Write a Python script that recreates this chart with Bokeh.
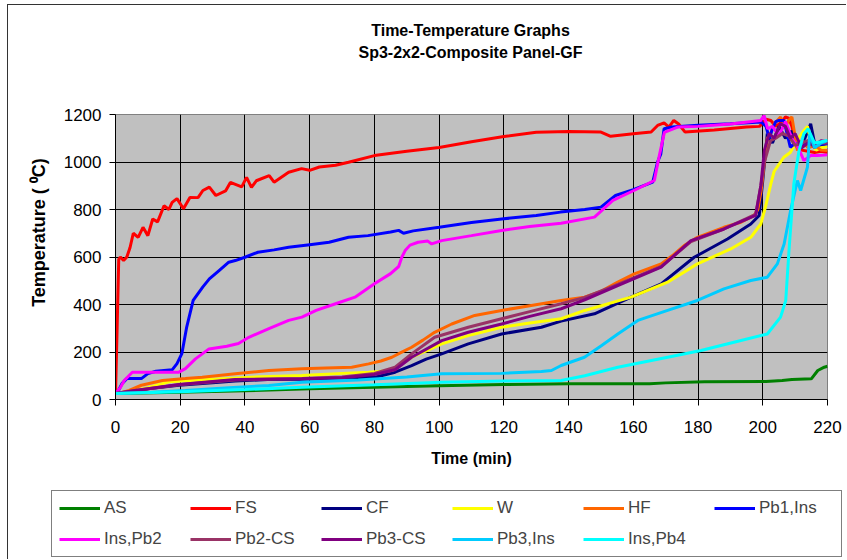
import math
from bokeh.plotting import figure
from bokeh.models import Range1d, SingleIntervalTicker, Legend, LegendItem
from bokeh.layouts import column, row
from bokeh.core.properties import value
from bokeh.embed import file_html
from bokeh.resources import INLINE

FONT = "Liberation Sans"

title_lines = ["Time-Temperature Graphs", "Sp3-2x2-Composite Panel-GF"]
x_label = "Time (min)"
y_label = "Temperature ( \u2070C)"

series_names = ["AS", "FS", "CF", "W", "HF", "Pb1,Ins",
                "Ins,Pb2", "Pb2-CS", "Pb3-CS", "Pb3,Ins", "Ins,Pb4"]
series_colors = ["#008000", "#FF0000", "#000080", "#FFFF00", "#FF6600", "#0000FF",
                 "#FF00FF", "#993366", "#800080", "#00CCFF", "#00FFFF"]

t_as = [0, 20, 40, 60, 80, 100, 120, 140, 165, 170, 182, 201, 206, 209, 215, 217, 219, 220]
T_as = [25, 30, 37, 45, 52, 58, 63, 66, 66, 70, 75, 76, 80, 84, 87, 122, 136, 140]

t_fs = [0, 0.5, 1, 1.5, 2.5, 3.5, 4.5, 5.5, 7, 8.5, 10, 11.5, 13, 15, 16.5, 17.5, 19, 21, 23, 25.5,
        27, 29, 31, 34, 35.5, 39, 40.5, 42, 43.5, 47.5, 49, 53.5, 57.5, 60, 63, 68, 72, 80, 90, 100,
        110, 120, 130, 140, 150, 153, 160, 165.5, 167.5, 169.5, 171, 172.5, 174, 176, 185, 195, 199,
        201, 202.5, 204, 206, 207, 208, 209, 210.5, 212, 214, 216, 218, 220]
T_fs = [20, 300, 590, 600, 585, 600, 640, 700, 683, 725, 690, 760, 748, 816, 800, 830, 846, 803, 851, 850,
        880, 894, 859, 878, 914, 895, 935, 893, 921, 943, 915, 957, 972, 965, 979, 986, 999, 1027, 1045, 1061,
        1085, 1107, 1125, 1128, 1126, 1108, 1119, 1126, 1154, 1165, 1147, 1175, 1160, 1126, 1135, 1147, 1150,
        1180, 1175, 1150, 1170, 1190, 1185, 1150, 1062, 1050, 1045, 1040, 1045, 1040]

t_cf = [0, 5, 10, 19.6, 30, 37, 47, 57.6, 70, 80.2, 86.4, 91.5, 96, 100.8, 109, 119.3, 131.6, 137.7, 148,
        159.3, 168.6, 178.8, 189.1, 196.3, 198.9, 199.9, 201.4, 203, 205, 207, 209, 211, 213, 214.8, 216, 218, 220]
T_cf = [25, 32, 45, 60, 70, 78, 84, 85, 90, 94, 115, 143, 170, 192, 234, 276, 304, 330, 361,
        431, 487, 599, 676, 739, 775, 908, 1119, 1080, 1150, 1100, 1130, 1060, 1100, 1161, 1080, 1070, 1077]

t_w = [0, 5, 10, 16.6, 30, 42, 57.6, 70, 78.2, 85.4, 91.5, 96, 100.8, 109, 119.3, 128, 137.7, 145, 159.3,
       170.6, 179.8, 190.1, 196.3, 199.4, 201, 202.5, 203.5, 206.5, 208.5, 210.5, 212.7, 213.8, 215, 216.5, 218, 220]
T_w = [25, 35, 50, 75, 85, 94, 101, 110, 115, 122, 178, 205, 234, 269, 304, 322, 340, 375, 431,
       494, 571, 634, 683, 739, 820, 908, 960, 1020, 1040, 1090, 1133, 1150, 1080, 1050, 1060, 1065]

t_hf = [0, 2, 4.2, 8, 14.5, 21.6, 26.8, 37, 47.4, 57.6, 65, 73, 78.2, 82, 85.4, 88, 91.5, 95, 98.6, 103.9,
        111, 119.3, 128, 137.7, 144.9, 150, 155.2, 160.3, 168.6, 172, 175.7, 179.8, 188, 193, 197.3,
        198.5, 199.5, 200.3, 201.4, 202.4, 203.5, 205.5, 207, 208, 209, 210.7, 212, 214, 216, 218, 220]
T_hf = [25, 30, 38, 60, 80, 88, 94, 108, 122, 129, 133, 136, 150, 162, 178, 196, 220, 250, 283, 318,
        354, 375, 395, 417, 431, 455, 494, 529, 571, 605, 648, 683, 725, 745, 775,
        800, 880, 978, 1100, 1119, 1160, 1189, 1150, 1175, 1190, 1048, 1090, 1060, 1070, 1050, 1048]

t_pb1 = [0, 1, 2, 3.5, 8, 10, 12.5, 17.5, 19, 20.5, 22, 24, 27, 29, 32, 35, 37, 40, 44, 49,
         53.5, 60, 66, 72, 78, 85, 87.5, 89, 92, 100, 110, 120, 130, 137.5, 145, 150, 154.5, 160, 166, 167.5,
         168.5, 169.5, 172, 180, 190, 199.5, 201, 202, 203, 204, 205, 206.5, 207.5, 208.5, 210,
         212, 214, 216, 218, 220]
T_pb1 = [25, 40, 67, 88, 88, 109, 119, 125, 151, 193, 305, 417, 474, 508, 543, 578, 585, 599, 620, 630,
         641, 652, 662, 683, 690, 705, 712, 700, 710, 725, 745, 761, 775, 789, 800, 810, 859, 884, 915, 1000,
         1034, 1140, 1147, 1155, 1161, 1168, 1150, 1100, 1140, 1170, 1175, 1175, 1120, 1062, 1080,
         1060, 1090, 1070, 1075, 1077]

t_pb2 = [0, 1.5, 2.7, 5.2, 19.6, 21.6, 24.7, 28.9, 34.4, 38, 41.2, 47.4, 53.5, 57.6, 62, 68, 74, 80, 85, 87.5,
         88.5, 89.5, 91, 93.5, 96.5, 97.7, 100.8, 110, 119.3, 128, 137.7, 148, 153.7, 160.2, 166.5,
         168, 169.6, 173.7, 180, 190, 199.4, 200.4, 201.5, 203, 205, 207, 209, 211, 212.7, 214.8, 217, 220]
T_pb2 = [25, 50, 80, 115, 115, 130, 171, 213, 224, 236, 262, 298, 333, 347, 375, 403, 431, 487, 530, 560,
         600, 627, 650, 662, 667, 655, 669, 690, 712, 728, 742, 768, 838, 880, 922,
         1025, 1125, 1147, 1150, 1160, 1175, 1196, 1140, 1150, 1110, 1170, 1100, 1060, 1006, 1027, 1027, 1030]

t_pb2cs = [0, 6, 19.6, 37, 57.6, 70, 80, 86.4, 91.5, 98.6, 109, 119.3, 128, 137.7, 145, 155.2, 168.6, 177.8,
           188, 197.8, 199.4, 200.5, 202.4, 204, 206, 208, 210, 212, 214, 216, 218, 220]
T_pb2cs = [25, 38, 62, 82, 88, 95, 110, 136, 192, 262, 304, 340, 370, 403, 430, 485, 560, 665,
           718, 780, 900, 1000, 1090, 1100, 1120, 1110, 1070, 1080, 1090, 1060, 1080, 1080]

t_pb3cs = [0, 6, 19.6, 37, 57.6, 70, 80, 86.4, 91.5, 100.8, 109, 119.3, 128, 137.7, 145, 155.2, 168.6, 177.8,
           188, 197.8, 199.4, 200.5, 202, 203.5, 205.5, 207, 208.5, 210, 212, 214, 216, 218, 220]
T_pb3cs = [25, 38, 63, 84, 87, 92, 105, 125, 178, 248, 283, 318, 350, 382, 420, 480, 557, 669,
           718, 775, 900, 1050, 1120, 1100, 1161, 1150, 1100, 1120, 1060, 1080, 1070, 1090, 1085]

t_pb3ins = [0, 10, 21.6, 35, 47.4, 57.6, 75, 90, 100.8, 119.3, 131.6, 134.7, 137.7, 144.9, 150, 155.2, 161.4,
            170.6, 179.8, 188, 196.3, 201.4, 204.5, 206.6, 208.6, 210.7, 211.7, 213.8, 214.5, 216, 218, 220]
T_pb3ins = [25, 30, 38, 50, 59, 73, 82, 95, 108, 110, 118, 122, 143, 178, 225, 276, 333,
            375, 417, 466, 501, 515, 571, 655, 796, 922, 880, 978, 1119, 1060, 1080, 1090]

t_pb4 = [0, 20, 40, 57.6, 80, 100.8, 120, 137.7, 145, 155.2, 170.6, 180.9, 191.1, 201.4, 205.5, 207.1,
         208.1, 209.6, 211.2, 212.7, 214, 216, 218, 220]
T_pb4 = [25, 33, 42, 52, 62, 73, 78, 80, 100, 136, 178, 206, 241, 276, 347, 417,
         627, 908, 1048, 1119, 1140, 1080, 1085, 1091]

series_t = [t_as, t_fs, t_cf, t_w, t_hf, t_pb1, t_pb2, t_pb2cs, t_pb3cs, t_pb3ins, t_pb4]
series_T = [T_as, T_fs, T_cf, T_w, T_hf, T_pb1, T_pb2, T_pb2cs, T_pb3cs, T_pb3ins, T_pb4]

x_ticks_interval = 20
y_ticks_interval = 200

W = 838      # total width
TH = 60      # title strip height
MH = 414     # chart height
LH = 80      # legend strip height
YW = 52      # y-title strip width


def bare(fig):
    fig.xaxis.visible = False
    fig.yaxis.visible = False
    fig.xgrid.visible = False
    fig.ygrid.visible = False
    fig.outline_line_color = None
    fig.background_fill_color = "white"
    fig.border_fill_color = "white"
    fig.frame_align = False


def strip(w, h, xr, yr):
    f = figure(width=w, height=h, output_backend="svg", toolbar_location=None,
               x_range=xr, y_range=yr,
               min_border_left=0, min_border_right=0, min_border_top=0, min_border_bottom=0)
    bare(f)
    return f


# ---- title strip ----
pt = strip(W, TH, Range1d(0, W), Range1d(TH, 0))
pt.text(x=[462, 462], y=[25, 47], text=title_lines, text_align="center", text_baseline="middle",
        text_font=value(FONT), text_font_size=value("16px"), text_font_style="bold", text_color="black")

# ---- y-title strip ----
py = strip(YW, MH, Range1d(0, YW), Range1d(MH, 0))
py.text(x=[30], y=[167], text=[y_label], angle=math.pi / 2, text_align="center", text_baseline="middle",
        text_font=value(FONT), text_font_size=value("18px"), text_font_style="bold", text_color="black")

# ---- main chart ----
p = figure(width=W - YW, height=MH, output_backend="svg", toolbar_location=None,
           x_range=Range1d(0, 220), y_range=Range1d(0, 1200),
           min_border_left=105 - YW, min_border_right=19, min_border_top=49, min_border_bottom=80)
p.frame_align = False
p.background_fill_color = "#C0C0C0"
p.border_fill_color = "white"
p.outline_line_color = "#808080"
p.outline_line_width = 1

for g in (p.xgrid, p.ygrid):
    g.grid_line_color = "black"
    g.grid_line_width = 1
p.xaxis.ticker = SingleIntervalTicker(interval=x_ticks_interval)
p.yaxis.ticker = SingleIntervalTicker(interval=y_ticks_interval)
p.xgrid.ticker = p.xaxis.ticker
p.ygrid.ticker = p.yaxis.ticker

for ax in (p.xaxis, p.yaxis):
    ax.axis_line_color = "black"
    ax.major_tick_line_color = "black"
    ax.major_tick_out = 6
    ax.major_tick_in = 0
    ax.minor_tick_line_color = None
    ax.major_label_text_font = FONT
    ax.major_label_text_font_size = "17px"
    ax.major_label_text_color = "black"
    ax.axis_label_text_font = FONT
    ax.axis_label_text_font_size = "16px"
    ax.axis_label_text_font_style = "bold"
    ax.axis_label_text_color = "black"

p.xaxis.axis_label = x_label
p.xaxis.major_label_standoff = 15
p.xaxis.axis_label_standoff = 14
p.yaxis.major_label_standoff = 8

for t, T, c in zip(series_t, series_T, series_colors):
    p.line(t, T, line_color=c, line_width=3)

# ---- legend strip (series redrawn off-range so only their legend keys show) ----
pl = strip(W, LH, Range1d(0, 1), Range1d(-2, -1))
legend_renderers = [pl.line(t, T, line_color=c, line_width=3)
                    for t, T, c in zip(series_t, series_T, series_colors)]
items = [LegendItem(label=n, renderers=[r]) for n, r in zip(series_names, legend_renderers)]
legend = Legend(items=items, orientation="horizontal", ncols=6,
                location=(43, 2),
                glyph_width=41, glyph_height=20, label_height=20, label_width=75,
                label_standoff=4, spacing=11, padding=7, margin=0,
                label_text_font=FONT, label_text_font_size="17px",
                border_line_color="black", border_line_width=1,
                background_fill_color="white", background_fill_alpha=1)
pl.add_layout(legend, "center")

layout = column(pt, row(py, p, spacing=0), pl, spacing=0)
layout.styles = {"margin-left": "7px", "margin-top": "4px",
                 "border-left": "1px solid #333333", "border-top": "1px solid #333333"}

open("out.html", "w").write(file_html(layout, INLINE))
